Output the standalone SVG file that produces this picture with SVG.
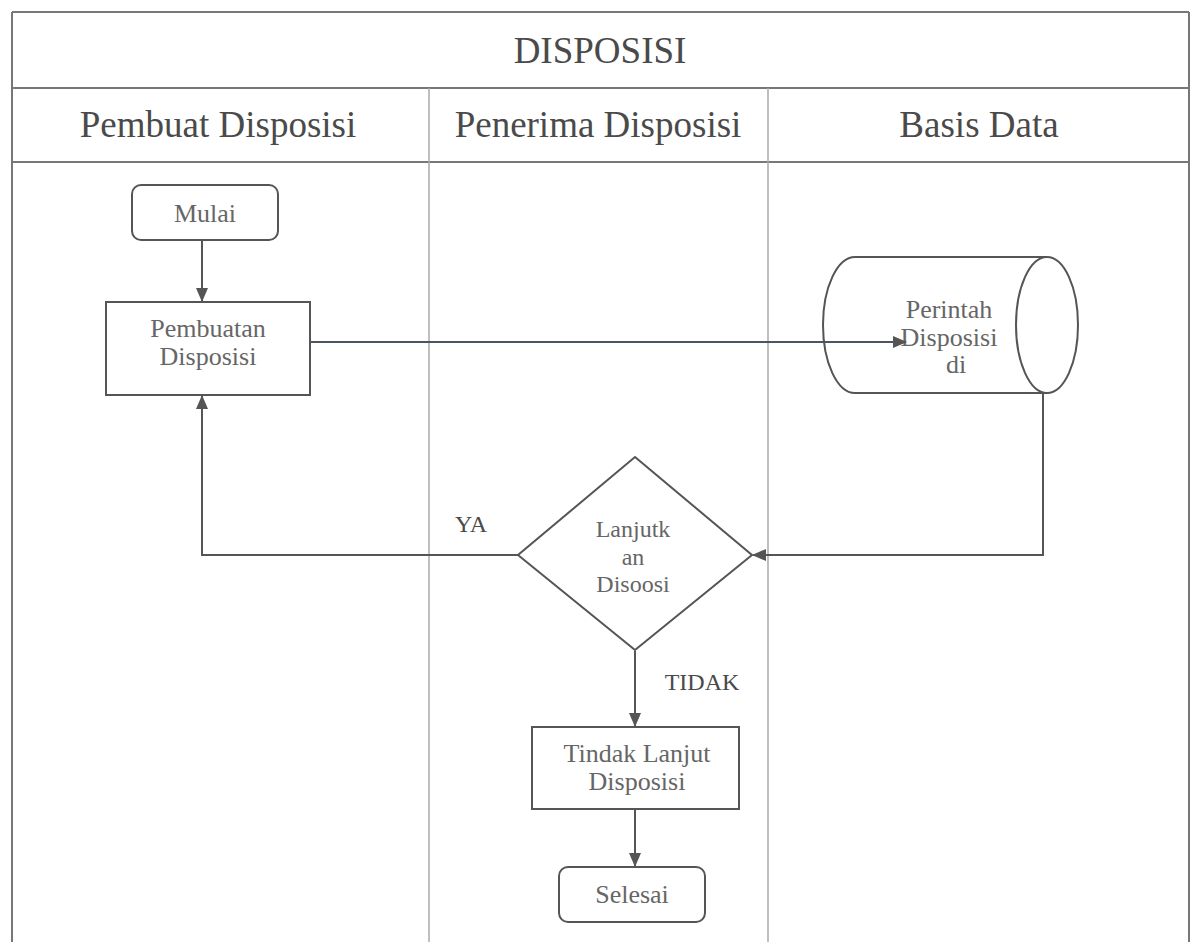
<svg xmlns="http://www.w3.org/2000/svg" width="1192" height="942" viewBox="0 0 1192 942">
<defs>
<marker id="ah" markerWidth="14" markerHeight="12" refX="13" refY="6" orient="auto" markerUnits="userSpaceOnUse">
<path d="M0,0 L14,6 L0,12 z" fill="#555"/>
</marker>
<style>
.frame{fill:none;stroke:#777;stroke-width:2}
.lane{stroke:#aaa;stroke-width:1.5}
.node{fill:#fff;stroke:#555;stroke-width:2}
.conn{fill:none;stroke:#555;stroke-width:2}
.hdr{font-family:"Liberation Serif","Times New Roman",serif;font-size:37px;fill:#4a4a4a;text-anchor:middle}
.t{font-family:"Liberation Serif","Times New Roman",serif;font-size:26px;fill:#666;text-anchor:middle}
.lbl{font-family:"Liberation Serif","Times New Roman",serif;font-size:24px;fill:#4a4a4a;text-anchor:middle}
</style>
</defs>
<rect width="1192" height="942" fill="#fff"/>
<g id="lanes">
<line class="frame" x1="12" y1="12" x2="1189" y2="12"/>
<line class="frame" x1="12" y1="12" x2="12" y2="942"/>
<line class="frame" x1="1189" y1="12" x2="1189" y2="942"/>
<line class="frame" x1="12" y1="88" x2="1189" y2="88"/>
<line class="frame" x1="12" y1="162" x2="1189" y2="162"/>
<line class="lane" x1="429" y1="88" x2="429" y2="942"/>
<line class="lane" x1="768" y1="88" x2="768" y2="942"/>
<text class="hdr" x="600" y="63">DISPOSISI</text>
<text class="hdr" x="218" y="137">Pembuat Disposisi</text>
<text class="hdr" x="598" y="137">Penerima Disposisi</text>
<text class="hdr" x="979" y="137">Basis Data</text>
</g>
<g id="mulai">
<rect class="node" x="132" y="185" width="146" height="55" rx="9"/>
<text class="t" x="205" y="222">Mulai</text>
</g>
<g id="pembuatan">
<rect class="node" x="106" y="302" width="204" height="93"/>
<text class="t" x="208" y="337">Pembuatan</text>
<text class="t" x="208" y="365">Disposisi</text>
</g>
<g id="db">
<path class="node" d="M1047,257 L855,257 A32,68 0 0 0 855,393 L1047,393"/>
<ellipse class="node" cx="1047" cy="325" rx="31" ry="68"/>
<text class="t" x="949" y="318">Perintah</text>
<text class="t" x="949" y="346">Disposisi</text>
<text class="t" x="956" y="373">di</text>
</g>
<g id="keputusan">
<polygon class="node" points="635,457 752,555 635,650 518,555"/>
<text class="t" x="633" y="537" style="font-size:24px">Lanjutk</text>
<text class="t" x="633" y="565" style="font-size:24px">an</text>
<text class="t" x="633" y="592" style="font-size:24px">Disoosi</text>
</g>
<g id="tindak">
<rect class="node" x="532" y="727" width="207" height="82"/>
<text class="t" x="637" y="762">Tindak Lanjut</text>
<text class="t" x="637" y="790">Disposisi</text>
</g>
<g id="selesai">
<rect class="node" x="559" y="867" width="146" height="55" rx="9"/>
<text class="t" x="632" y="903">Selesai</text>
</g>
<g id="connectors">
<line class="conn" x1="202" y1="241" x2="202" y2="301" marker-end="url(#ah)"/>
<line class="conn" x1="311" y1="342" x2="906" y2="342" style="stroke:#4a5560" marker-end="url(#ah)"/>
<polyline class="conn" points="1043,393 1043,555 753,555" marker-end="url(#ah)"/>
<polyline class="conn" points="518,555 202,555 202,396" marker-end="url(#ah)"/>
<line class="conn" x1="635" y1="651" x2="635" y2="726" marker-end="url(#ah)"/>
<line class="conn" x1="635" y1="810" x2="635" y2="866" marker-end="url(#ah)"/>
<text class="lbl" x="471" y="532">YA</text>
<text class="lbl" x="702" y="690">TIDAK</text>
</g>
</svg>
